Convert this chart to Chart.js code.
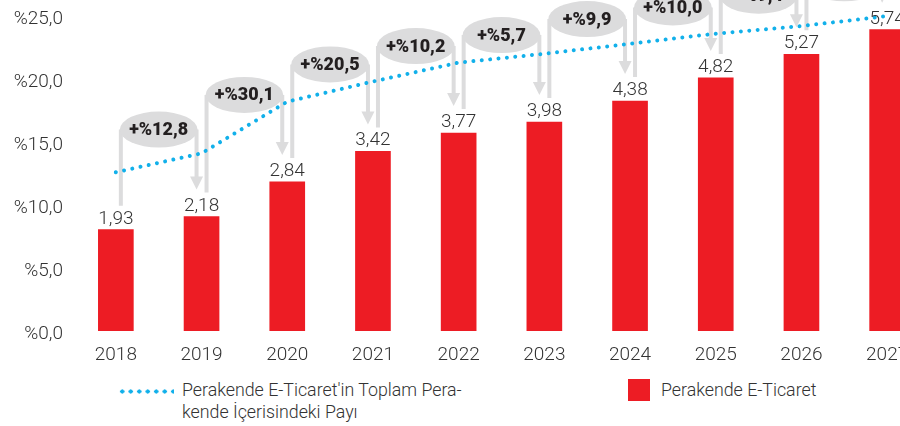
<!DOCTYPE html>
<html>
<head>
<meta charset="utf-8">
<script src="https://cdn.jsdelivr.net/npm/chart.js@4"></script>
<style>
  html, body { margin: 0; padding: 0; background: #fff; overflow: hidden; width: 900px; height: 426px; }
  #wrap { position: relative; width: 930px; height: 365px; }
  .lg { position: absolute; font-family: Roboto, sans-serif; font-weight: 300; font-size: 17.8px; line-height: 22px; color: #333; white-space: nowrap; }
  #dots { position: absolute; left: 118px; top: 389px; width: 56px; height: 5px;
          background: radial-gradient(circle, #12b0ea 1.9px, transparent 2.3px) 0 0 / 8.5px 5px repeat-x; }
  #sq { position: absolute; left: 628px; top: 379px; width: 22px; height: 22px; background: #ed1c24; }
</style>
</head>
<body>
<div id="wrap"><canvas id="chart"></canvas></div>
<div id="dots"></div>
<div class="lg" style="left:182px; top:379px;">Perakende E-Ticaret'in Toplam Pera-<br>kende İçerisindeki Payı</div>
<div id="sq"></div>
<div class="lg" style="left:661px; top:379px;">Perakende E-Ticaret</div>

<script>
const years = ['2018', '2019', '2020', '2021', '2022', '2023', '2024', '2025', '2026', '2027'];
const eCommerce = [1.93, 2.18, 2.84, 3.42, 3.77, 3.98, 4.38, 4.82, 5.27, 5.74];
const sharePct = [12.6, 14.1, 18.2, 19.8, 21.3, 22.0, 22.8, 23.6, 24.2, 25.0];
const growth = ['+%12,8', '+%30,1', '+%20,5', '+%10,2', '+%5,7', '+%9,9', '+%10,0', '+%9,4', '+%8,9'];
const yTicks = [0, 5, 10, 15, 20, 25];

const fmt = v => v.toFixed(2).replace('.', ',');
const GRAY = '#dcdcdd';

// growth bubbles with arrows between consecutive bars
const badgePlugin = {
    id: 'badges',
    beforeDatasetsDraw(chart) {
        const ctx = chart.ctx;
        const bars = chart.getDatasetMeta(1).data;
        ctx.save();
        for (let i = 1; i < bars.length; i++) {
            const prev = bars[i - 1], cur = bars[i];
            const xL = prev.x + 5, xR = cur.x - 5;
            const tip = cur.y - 27;
            const gap = Math.min(60, 18 + 0.5 * tip);
            const cy = tip - gap;
            const leftEnd = prev.y - 24;

            ctx.strokeStyle = GRAY;
            ctx.fillStyle = GRAY;
            ctx.lineWidth = 4;
            ctx.beginPath();
            ctx.moveTo(xL, cy); ctx.lineTo(xL, leftEnd);
            ctx.moveTo(xR, cy); ctx.lineTo(xR, tip - 12);
            ctx.stroke();
            ctx.beginPath();
            ctx.moveTo(xR - 6.5, tip - 13);
            ctx.lineTo(xR + 6.5, tip - 13);
            ctx.lineTo(xR, tip);
            ctx.closePath();
            ctx.fill();

            ctx.beginPath();
            ctx.ellipse((xL + xR) / 2, cy, (xR - xL) / 2 + 1, 18, 0, 0, Math.PI * 2);
            ctx.fill();

            ctx.fillStyle = '#231f20';
            ctx.font = '900 18px Roboto';
            ctx.textAlign = 'center';
            ctx.textBaseline = 'middle';
            ctx.fillText(growth[i - 1], (xL + xR) / 2, cy + 1);
        }
        ctx.restore();
    },
    afterDatasetsDraw(chart) {
        const ctx = chart.ctx;
        const bars = chart.getDatasetMeta(1).data;
        ctx.save();
        ctx.fillStyle = '#333';
        ctx.font = '300 19px Roboto';
        ctx.textAlign = 'center';
        ctx.textBaseline = 'alphabetic';
        bars.forEach((b, i) => ctx.fillText(fmt(eCommerce[i]), b.x, b.y - 6));
        ctx.restore();
    }
};

new Chart(document.getElementById('chart'), {
    type: 'bar',
    data: {
        labels: years,
        datasets: [
            {
                type: 'line',
                label: "Perakende E-Ticaret'in Toplam Perakende İçerisindeki Payı",
                data: sharePct,
                yAxisID: 'y',
                borderColor: '#12b0ea',
                borderWidth: 4,
                borderDash: [0.01, 8.4],
                borderCapStyle: 'round',
                pointRadius: 0,
                tension: 0,
                fill: false,
                clip: false,
                order: 0
            },
            {
                label: 'Perakende E-Ticaret',
                data: eCommerce,
                yAxisID: 'y1',
                backgroundColor: '#ed1c24',
                barThickness: 35,
                order: 1
            }
        ]
    },
    options: {
        responsive: true,
        maintainAspectRatio: false,
        animation: false,
        layout: { padding: { top: 16, left: 0, right: 0, bottom: 0 } },
        plugins: { legend: { display: false }, tooltip: { enabled: false } },
        scales: {
            x: {
                grid: { display: false },
                border: { display: false },
                ticks: { color: '#333', font: { family: 'Roboto', size: 19, weight: 300 }, padding: 5, maxRotation: 0 },
                afterFit: s => { s.height = 34; }
            },
            y: {
                min: 0, max: 25,
                grid: { display: false },
                border: { display: false },
                afterBuildTicks: s => { s.ticks = yTicks.map(v => ({ value: v })); },
                ticks: {
                    color: '#333',
                    font: { family: 'Roboto', size: 19, weight: 300 },
                    padding: 2,
                    labelOffset: 3,
                    callback: v => '%' + v.toFixed(1).replace('.', ',')
                },
                afterFit: s => { s.width = 73; }
            },
            y1: { display: false, min: 0, max: 6 }
        }
    },
    plugins: [badgePlugin]
});
</script>
</body>
</html>
